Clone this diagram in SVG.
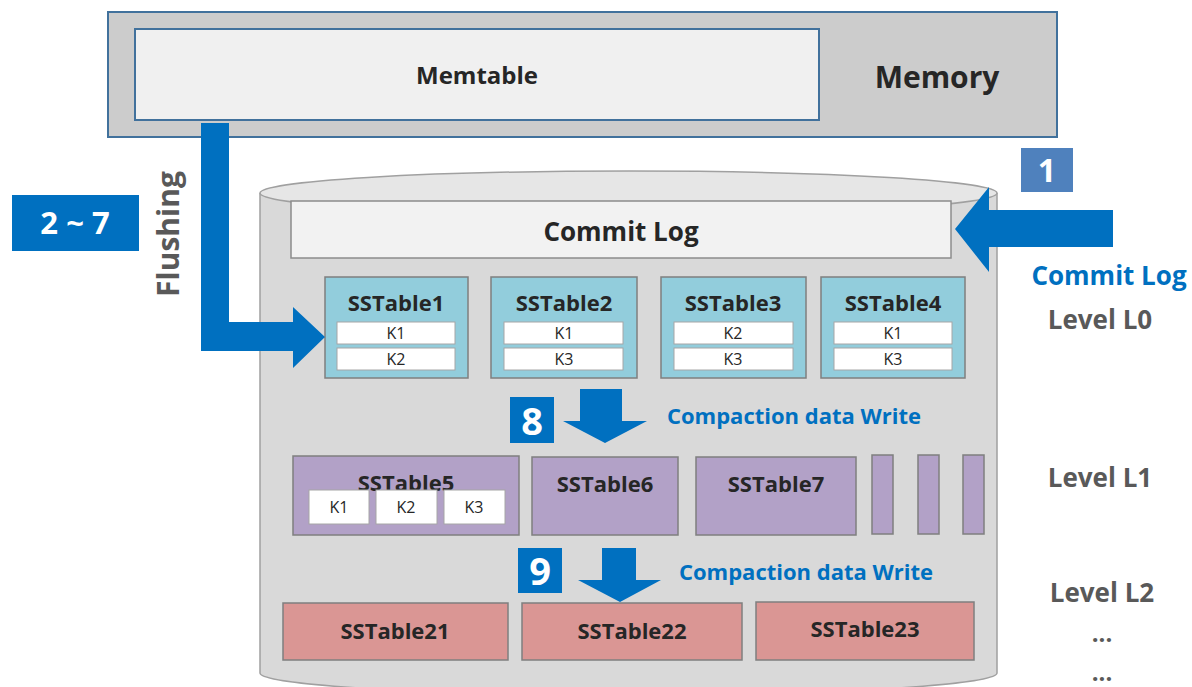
<svg xmlns="http://www.w3.org/2000/svg" width="1192" height="687" viewBox="0 0 1192 687">
<style>
text{font-family:"Open Sans","Liberation Sans",sans-serif;font-weight:bold;text-anchor:middle}
.dark{fill:#262626}
.grey{fill:#595959}
.blue{fill:#0070c0}
.white{fill:#ffffff}
.l0{fill:#92cddc;stroke:#7f7f7f;stroke-width:1.5}
.l1{fill:#b2a1c7;stroke:#7f7f7f;stroke-width:1.5}
.l2{fill:#da9694;stroke:#7f7f7f;stroke-width:1.5}
.key{fill:#ffffff;stroke:#a6a6a6;stroke-width:1}
.keyt{font-weight:normal;font-size:16px;fill:#262626}
.arrow{fill:#0070c0}
</style>
<g id="memory">
<rect x="108" y="12" width="949" height="125" fill="#cccccc" stroke="#41719c" stroke-width="2"/>
<text x="937" y="88" font-size="30" class="dark">Memory</text>
</g>
<g id="memtable">
<rect x="135" y="29" width="684" height="91" fill="#f0f0f0" stroke="#41719c" stroke-width="2"/>
<text x="477" y="84" font-size="24" class="dark">Memtable</text>
</g>
<g id="disk">
<path d="M260,193 V673 A368.5,22 0 0 0 997,673 V193" fill="#d9d9d9" stroke="#a0a0a0" stroke-width="1.5"/>
<ellipse cx="628.5" cy="193" rx="368.5" ry="22" fill="#e6e6e6" stroke="#a0a0a0" stroke-width="1.5"/>
</g>
<g id="commitlog">
<rect x="291" y="201" width="660" height="57" fill="#f2f2f2" stroke="#8c8c8c" stroke-width="1.5"/>
<text x="621" y="241" font-size="26" class="dark">Commit Log</text>
</g>
<g id="sstable1">
<rect x="325" y="277" width="143" height="101" class="l0"/>
<text x="396" y="311" font-size="22" class="dark">SSTable1</text>
<rect x="337" y="322" width="118" height="22" class="key"/><text x="396" y="339" class="keyt">K1</text>
<rect x="337" y="348" width="118" height="22" class="key"/><text x="396" y="365" class="keyt">K2</text>
</g>
<g id="sstable2">
<rect x="491" y="277" width="146" height="101" class="l0"/>
<text x="564" y="311" font-size="22" class="dark">SSTable2</text>
<rect x="504" y="322" width="119" height="22" class="key"/><text x="564" y="339" class="keyt">K1</text>
<rect x="504" y="348" width="119" height="22" class="key"/><text x="564" y="365" class="keyt">K3</text>
</g>
<g id="sstable3">
<rect x="661" y="277" width="145" height="101" class="l0"/>
<text x="733" y="311" font-size="22" class="dark">SSTable3</text>
<rect x="674" y="322" width="119" height="22" class="key"/><text x="733" y="339" class="keyt">K2</text>
<rect x="674" y="348" width="119" height="22" class="key"/><text x="733" y="365" class="keyt">K3</text>
</g>
<g id="sstable4">
<rect x="821" y="277" width="144" height="101" class="l0"/>
<text x="893" y="311" font-size="22" class="dark">SSTable4</text>
<rect x="834" y="322" width="118" height="22" class="key"/><text x="893" y="339" class="keyt">K1</text>
<rect x="834" y="348" width="118" height="22" class="key"/><text x="893" y="365" class="keyt">K3</text>
</g>
<g id="sstable5">
<rect x="293" y="456" width="226" height="79" class="l1"/>
<text x="406" y="491" font-size="22" class="dark">SSTable5</text>
<rect x="309" y="490" width="60" height="34" class="key"/><text x="339" y="513" class="keyt">K1</text>
<rect x="376" y="490" width="61" height="34" class="key"/><text x="406" y="513" class="keyt">K2</text>
<rect x="444" y="490" width="61" height="34" class="key"/><text x="474" y="513" class="keyt">K3</text>
</g>
<g id="sstable6">
<rect x="532" y="457" width="146" height="78" class="l1"/>
<text x="605" y="492" font-size="22" class="dark">SSTable6</text>
</g>
<g id="sstable7">
<rect x="696" y="457" width="160" height="78" class="l1"/>
<text x="776" y="492" font-size="22" class="dark">SSTable7</text>
</g>
<g id="l1bars">
<rect x="872" y="455" width="21" height="79" class="l1"/>
<rect x="918" y="455" width="21" height="79" class="l1"/>
<rect x="963" y="455" width="21" height="79" class="l1"/>
</g>
<g id="sstable21">
<rect x="283" y="603" width="225" height="57" class="l2"/>
<text x="395" y="639" font-size="22" class="dark">SSTable21</text>
</g>
<g id="sstable22">
<rect x="522" y="603" width="220" height="57" class="l2"/>
<text x="632" y="639" font-size="22" class="dark">SSTable22</text>
</g>
<g id="sstable23">
<rect x="756" y="602" width="218" height="58" class="l2"/>
<text x="865" y="637" font-size="22" class="dark">SSTable23</text>
</g>
<g id="connectors">
<path class="arrow" d="M201,123 H229 V322 H293 V307 L325,337 L293,368 V351 H201 Z"/>
<path class="arrow" d="M1113,210 V247 H989 V272 L955,229 L989,187 V210 Z"/>
<path class="arrow" d="M580,389 H622 V421 H647 L605,443 L563,421 H580 Z"/>
<path class="arrow" d="M602,548 H636 V580 H661 L620,602 L578,580 H602 Z"/>
</g>
<g id="labels">
<rect x="12" y="195" width="127" height="56" fill="#0070c0"/>
<text x="75" y="234" font-size="31" class="white">2 ~ 7</text>
<text transform="translate(179,234) rotate(-90)" font-size="30" class="grey">Flushing</text>
<rect x="1021" y="148" width="52" height="44" fill="#4f81bd"/>
<text x="1047" y="182" font-size="32" class="white">1</text>
<text x="1109" y="285" font-size="26" class="blue">Commit Log</text>
<text x="1100" y="329" font-size="26" class="grey">Level L0</text>
<rect x="510" y="397" width="44" height="46" fill="#0070c0"/>
<text x="532" y="435" font-size="38" class="white">8</text>
<text x="794" y="424" font-size="22" class="blue">Compaction data Write</text>
<text x="1100" y="487" font-size="26" class="grey">Level L1</text>
<rect x="518" y="548" width="44" height="45" fill="#0070c0"/>
<text x="540" y="585" font-size="38" class="white">9</text>
<text x="806" y="580" font-size="22" class="blue">Compaction data Write</text>
<text x="1102" y="602" font-size="26" class="grey">Level L2</text>
<text x="1102" y="642" font-size="24" class="grey">...</text>
<text x="1102" y="681" font-size="24" class="grey">...</text>
</g>
</svg>
